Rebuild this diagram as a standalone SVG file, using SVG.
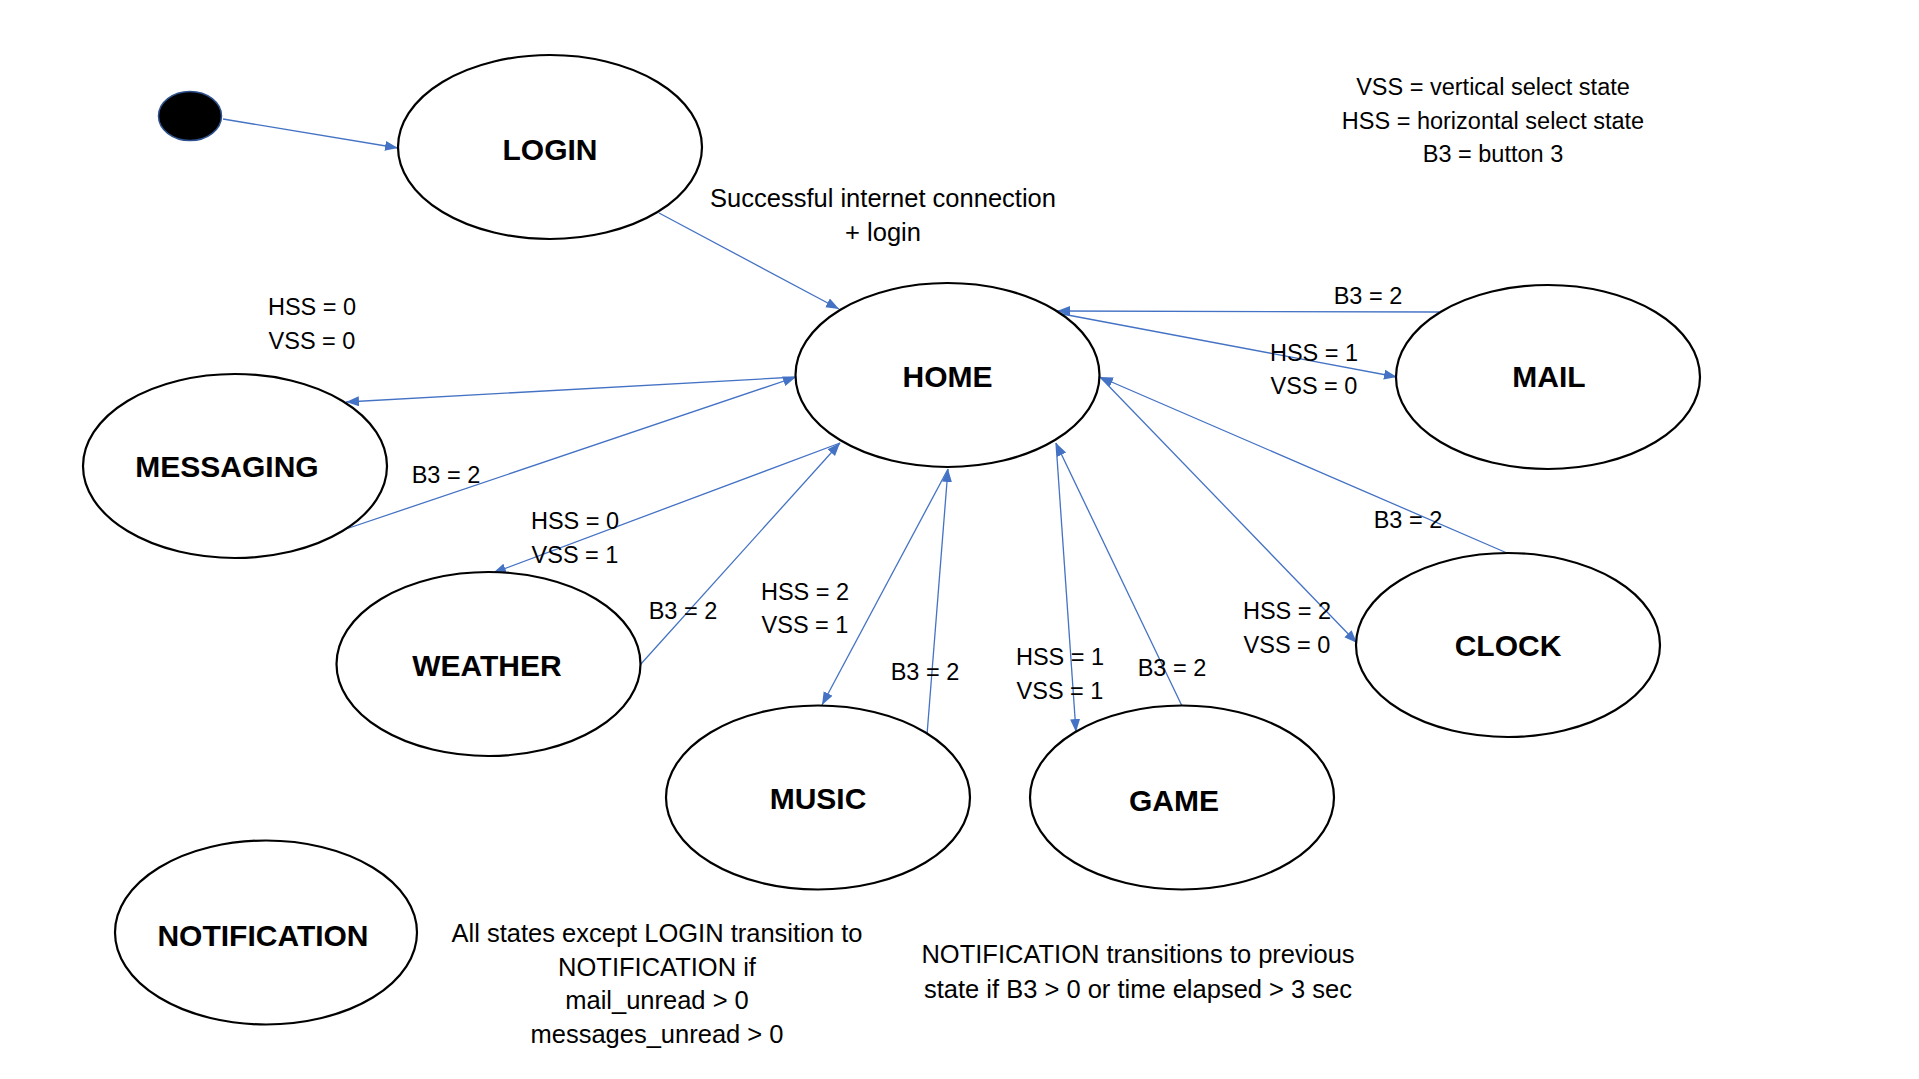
<svg xmlns="http://www.w3.org/2000/svg" width="1919" height="1079" viewBox="0 0 1919 1079">
<defs>
<style>
.st{fill:#fff;stroke:#000;stroke-width:2.2}
.nt{font-family:"Liberation Sans",Arial,sans-serif;font-weight:bold;font-size:30px;text-anchor:middle;fill:#000}
.lb{font-family:"Liberation Sans",Arial,sans-serif;font-size:23.5px;text-anchor:middle;fill:#000}
.tx{font-family:"Liberation Sans",Arial,sans-serif;font-size:25.5px;text-anchor:middle;fill:#000}
.cn{fill:none;stroke:#4472C4;stroke-width:1.3;marker-end:url(#ah)}
</style>
<marker id="ah" markerUnits="userSpaceOnUse" markerWidth="14" markerHeight="12" refX="13" refY="5" orient="auto">
<path d="M0,0 L13,5 L0,10 Z" fill="#4472C4"/>
</marker>
</defs>
<rect width="1919" height="1079" fill="#fff"/>
<g id="connectors">
<line class="cn" x1="223" y1="119" x2="398" y2="148"/>
<line class="cn" x1="659" y1="213" x2="839" y2="309"/>
<line class="cn" x1="1439" y1="312" x2="1057" y2="311"/>
<line class="cn" x1="1057" y1="313" x2="1397" y2="377"/>
<line class="cn" x1="796" y1="377" x2="346" y2="402"/>
<line class="cn" x1="343" y1="530" x2="796" y2="377"/>
<line class="cn" x1="840" y1="443" x2="493" y2="573"/>
<line class="cn" x1="640" y1="665" x2="840" y2="443"/>
<line class="cn" x1="948" y1="469" x2="822" y2="705"/>
<line class="cn" x1="927" y1="735" x2="948" y2="469"/>
<line class="cn" x1="1056" y1="443" x2="1076" y2="732"/>
<line class="cn" x1="1182" y1="706" x2="1056" y2="443"/>
<line class="cn" x1="1100" y1="377" x2="1357" y2="643"/>
<line class="cn" x1="1507" y1="553" x2="1100" y2="377"/>
</g>
<g id="start">
<ellipse cx="190" cy="116" rx="31.5" ry="24.5" fill="#000" stroke="#2F528F" stroke-width="1.5"/>
</g>
<g id="login">
<ellipse class="st" cx="550" cy="147" rx="152" ry="92"/>
<text class="nt" x="550" y="160">LOGIN</text>
</g>
<g id="home">
<ellipse class="st" cx="947.5" cy="375" rx="152" ry="92"/>
<text class="nt" x="947.5" y="387">HOME</text>
</g>
<g id="mail">
<ellipse class="st" cx="1548" cy="377" rx="152" ry="92"/>
<text class="nt" x="1549" y="387">MAIL</text>
</g>
<g id="messaging">
<ellipse class="st" cx="235" cy="466" rx="152" ry="92"/>
<text class="nt" x="227" y="477">MESSAGING</text>
</g>
<g id="weather">
<ellipse class="st" cx="488.5" cy="664" rx="152" ry="92"/>
<text class="nt" x="487" y="676">WEATHER</text>
</g>
<g id="music">
<ellipse class="st" cx="818" cy="797.5" rx="152" ry="92"/>
<text class="nt" x="818" y="809">MUSIC</text>
</g>
<g id="game">
<ellipse class="st" cx="1182" cy="797.5" rx="152" ry="92"/>
<text class="nt" x="1174" y="811">GAME</text>
</g>
<g id="clock">
<ellipse class="st" cx="1508" cy="645" rx="152" ry="92"/>
<text class="nt" x="1508" y="656">CLOCK</text>
</g>
<g id="notification">
<ellipse class="st" cx="266" cy="932.5" rx="151" ry="92"/>
<text class="nt" x="263" y="946">NOTIFICATION</text>
</g>
<g id="labels">
<text class="lb" x="1493" y="95">VSS = vertical select state</text>
<text class="lb" x="1493" y="129">HSS = horizontal select state</text>
<text class="lb" x="1493" y="162">B3 = button 3</text>
<text class="tx" x="883" y="207">Successful internet connection</text>
<text class="tx" x="883" y="241">+ login</text>
<text class="lb" x="312" y="315">HSS = 0</text>
<text class="lb" x="312" y="349">VSS = 0</text>
<text class="lb" x="1368" y="304">B3 = 2</text>
<text class="lb" x="1314" y="361">HSS = 1</text>
<text class="lb" x="1314" y="394">VSS = 0</text>
<text class="lb" x="446" y="483">B3 = 2</text>
<text class="lb" x="575" y="529">HSS = 0</text>
<text class="lb" x="575" y="563">VSS = 1</text>
<text class="lb" x="683" y="619">B3 = 2</text>
<text class="lb" x="805" y="600">HSS = 2</text>
<text class="lb" x="805" y="633">VSS = 1</text>
<text class="lb" x="925" y="680">B3 = 2</text>
<text class="lb" x="1060" y="665">HSS = 1</text>
<text class="lb" x="1060" y="699">VSS = 1</text>
<text class="lb" x="1172" y="676">B3 = 2</text>
<text class="lb" x="1287" y="619">HSS = 2</text>
<text class="lb" x="1287" y="653">VSS = 0</text>
<text class="lb" x="1408" y="528">B3 = 2</text>
<text class="tx" x="657" y="942">All states except LOGIN transition to</text>
<text class="tx" x="657" y="976">NOTIFICATION if</text>
<text class="tx" x="657" y="1009">mail_unread &gt; 0</text>
<text class="tx" x="657" y="1043">messages_unread &gt; 0</text>
<text class="tx" x="1138" y="963">NOTIFICATION transitions to previous</text>
<text class="tx" x="1138" y="998">state if B3 &gt; 0 or time elapsed &gt; 3 sec</text>
</g>
</svg>
